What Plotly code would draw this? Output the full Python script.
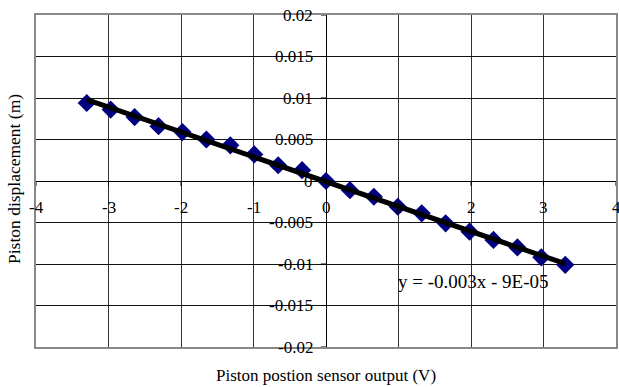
import numpy as np
import plotly.graph_objects as go

# Data
sensor_v = [-3.3, -2.97, -2.64, -2.31, -1.98, -1.65, -1.32, -0.99, -0.66, -0.33,
            0.0, 0.33, 0.66, 0.99, 1.32, 1.65, 1.98, 2.31, 2.64, 2.97, 3.3]
displacement_m = [0.0094, 0.0086, 0.0077, 0.0066, 0.0059, 0.0050, 0.0043, 0.0032, 0.0019, 0.0013,
                  0.0, -0.0011, -0.0019, -0.0031, -0.0039, -0.0051, -0.0061, -0.0071, -0.0080, -0.0092, -0.0101]

x_tick_vals = [-4, -3, -2, -1, 0, 1, 2, 3, 4]
x_tick_text = ["-4", "-3", "-2", "-1", "0", "1", "2", "3", "4"]
y_tick_vals = [0.02, 0.015, 0.01, 0.005, 0, -0.005, -0.01, -0.015, -0.02]
y_tick_text = ["0.02", "0.015", "0.01", "0.005", "0", "-0.005", "-0.01", "-0.015", "-0.02"]

equation_text = "y = -0.003x - 9E-05"

FONT = "Liberation Serif, Times New Roman, serif"
FS = 17

# linear trendline computed from the data
coef = np.polyfit(sensor_v, displacement_m, 1)
trend_x = [min(sensor_v), max(sensor_v)]
trend_y = [coef[0] * v + coef[1] for v in trend_x]

fig = go.Figure()
fig.add_trace(go.Scatter(
    x=sensor_v, y=displacement_m, mode="markers",
    marker=dict(symbol="diamond", size=14, color="#000080", line=dict(width=0)),
    showlegend=False, hoverinfo="skip"))
fig.add_trace(go.Scatter(
    x=trend_x, y=trend_y, mode="lines",
    line=dict(color="black", width=5),
    showlegend=False, hoverinfo="skip"))

annotations = []
for v, t in zip(x_tick_vals, x_tick_text):
    annotations.append(dict(x=v, y=0, xref="x", yref="y", text=t, showarrow=False,
                            xanchor="center", yanchor="middle", yshift=-26,
                            font=dict(family=FONT, size=FS, color="black")))
for v, t in zip(y_tick_vals, y_tick_text):
    annotations.append(dict(x=0, y=v, xref="x", yref="y", text=t, showarrow=False,
                            xanchor="right", yanchor="middle", xshift=-11,
                            font=dict(family=FONT, size=FS, color="black")))
annotations.append(dict(x=0.97, y=-0.0121, xref="x", yref="y", text=equation_text,
                        showarrow=False, xanchor="left", yanchor="middle",
                        font=dict(family=FONT, size=19, color="black")))
annotations.append(dict(x=0.5, y=-0.0, xref="paper", yref="paper", yshift=-28,
                        text="Piston postion sensor output (V)", showarrow=False,
                        xanchor="center", yanchor="middle",
                        font=dict(family=FONT, size=FS, color="black")))
annotations.append(dict(x=-0.0, y=0.5, xref="paper", yref="paper", xshift=-22, yshift=2,
                        text="Piston displacement (m)", showarrow=False, textangle=-90,
                        xanchor="center", yanchor="middle",
                        font=dict(family=FONT, size=17.5, color="black")))

# small tick marks on the crossing axes
shapes = []
for v in x_tick_vals:
    shapes.append(dict(type="line", xref="x", yref="y", x0=v, x1=v, y0=0, y1=-0.0006,
                       line=dict(color="black", width=1)))
for v in y_tick_vals:
    shapes.append(dict(type="line", xref="x", yref="y", x0=0, x1=-0.07, y0=v, y1=v,
                       line=dict(color="black", width=1)))

fig.update_layout(
    width=619, height=387,
    margin=dict(l=36, r=1, t=15, b=40),
    paper_bgcolor="white", plot_bgcolor="white",
    annotations=annotations, shapes=shapes,
    xaxis=dict(range=[-4, 4], tickvals=x_tick_vals, showticklabels=False,
               showgrid=True, gridcolor="#333333", gridwidth=1,
               zeroline=True, zerolinecolor="black", zerolinewidth=1,
               showline=True, linecolor="#888888", linewidth=2, mirror=True, ticks=""),
    yaxis=dict(range=[-0.02, 0.02], tickvals=y_tick_vals, showticklabels=False,
               showgrid=True, gridcolor="#111111", gridwidth=1,
               zeroline=True, zerolinecolor="black", zerolinewidth=1,
               showline=True, linecolor="#888888", linewidth=2, mirror=True, ticks=""),
)

fig.write_html("out.html")
